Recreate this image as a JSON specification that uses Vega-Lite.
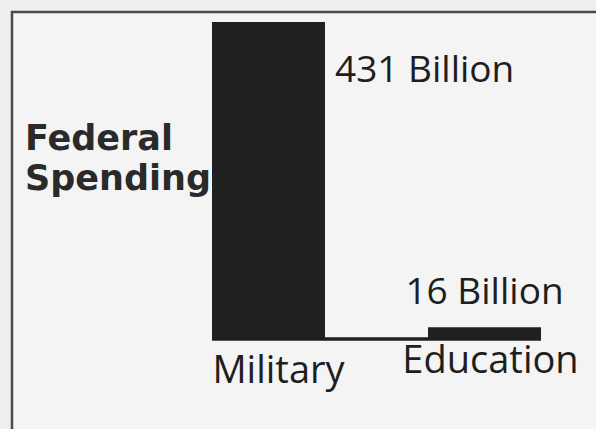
{
  "$schema": "https://vega.github.io/schema/vega-lite/v6.json",
  "autosize": "none",
  "padding": {"left": 12, "top": 12, "right": 0, "bottom": 0},
  "width": 600,
  "height": 430,
  "background": "#eeeeee",
  "config": {
    "view": {"stroke": "#4a4a4a", "strokeWidth": 2.5, "fill": "#f4f4f4"}
  },
  "data": {
    "values": [
      {"category": "Military", "value": 431, "label": "431 Billion"},
      {"category": "Education", "value": 16, "label": "16 Billion"}
    ]
  },
  "layer": [
    {
      "mark": {"type": "bar", "color": "#202020"},
      "encoding": {
        "x": {"field": "category", "type": "nominal", "sort": null,
              "scale": {"domain": ["Military", "Education"], "range": [200, 529], "paddingInner": 0.477, "paddingOuter": 0},
              "axis": null},
        "y": {"field": "value", "type": "quantitative",
              "scale": {"domain": [0, 431], "range": [327, 10], "nice": false},
              "axis": null}
      }
    },
    {
      "mark": {"type": "rule", "color": "#202020", "strokeWidth": 3},
      "encoding": {
        "x": {"datum": "Military", "type": "nominal", "bandPosition": 0, "scale": {"domain": ["Military", "Education"]}},
        "x2": {"datum": "Education", "bandPosition": 1},
        "y": {"datum": 0, "type": "quantitative"}
      }
    },
    {
      "transform": [{"filter": "datum.category === 'Military'"}],
      "mark": {"type": "text", "align": "left", "baseline": "alphabetic", "dx": 10, "dy": 60, "font": "Open Sans", "fontSize": 37, "color": "#1e1e1e"},
      "encoding": {
        "x": {"field": "category", "type": "nominal", "bandPosition": 1},
        "y": {"field": "value", "type": "quantitative"},
        "text": {"field": "label"}
      }
    },
    {
      "transform": [{"filter": "datum.category === 'Education'"}],
      "mark": {"type": "text", "align": "center", "baseline": "alphabetic", "dx": 0, "dy": -23, "font": "Open Sans", "fontSize": 37, "color": "#1e1e1e"},
      "encoding": {
        "x": {"field": "category", "type": "nominal", "bandPosition": 0.5},
        "y": {"field": "value", "type": "quantitative"},
        "text": {"field": "label"}
      }
    },
    {
      "transform": [{"filter": "datum.category === 'Military'"}],
      "mark": {"type": "text", "align": "center", "baseline": "alphabetic", "dx": 10, "dy": 44, "font": "Open Sans", "fontSize": 38, "color": "#1e1e1e"},
      "encoding": {
        "x": {"field": "category", "type": "nominal", "bandPosition": 0.5},
        "y": {"datum": 0, "type": "quantitative"},
        "text": {"field": "category"}
      }
    },
    {
      "transform": [{"filter": "datum.category === 'Education'"}],
      "mark": {"type": "text", "align": "center", "baseline": "alphabetic", "dx": 6, "dy": 34, "font": "Open Sans", "fontSize": 38, "color": "#1e1e1e"},
      "encoding": {
        "x": {"field": "category", "type": "nominal", "bandPosition": 0.5},
        "y": {"datum": 0, "type": "quantitative"},
        "text": {"field": "category"}
      }
    },
    {
      "transform": [{"filter": "datum.category === 'Military'"}],
      "mark": {"type": "text", "align": "left", "baseline": "alphabetic", "dx": -187, "dy": 128, "lineHeight": 40, "font": "DejaVu Sans", "fontWeight": "bold", "fontSize": 35, "color": "#2a2a2a", "text": ["Federal", "Spending"]},
      "encoding": {
        "x": {"field": "category", "type": "nominal", "bandPosition": 0},
        "y": {"field": "value", "type": "quantitative"}
      }
    }
  ]
}
